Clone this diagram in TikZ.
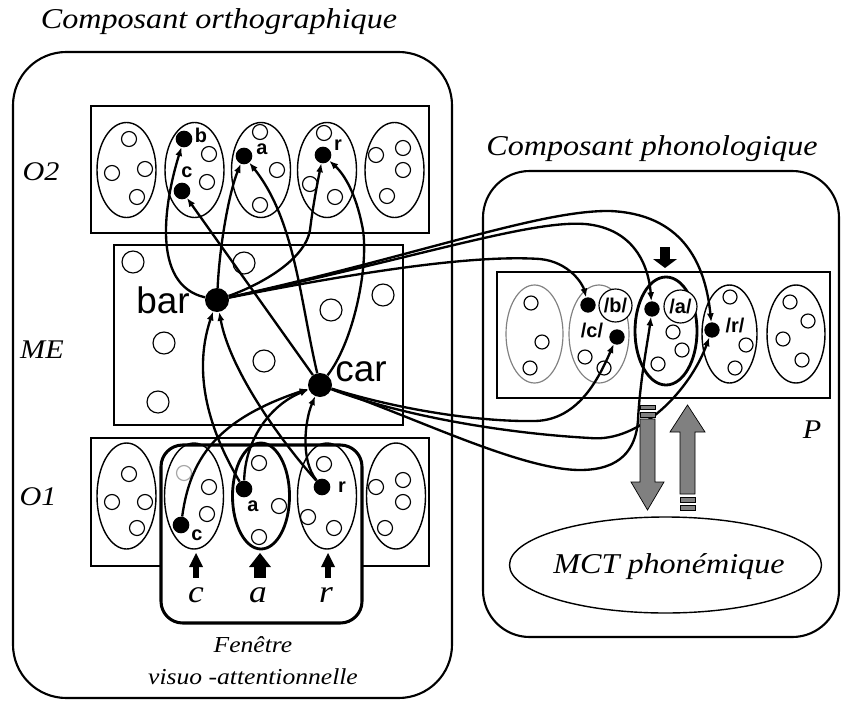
\documentclass[tikz,border=0pt]{standalone}
\usepackage{fontspec}
\usetikzlibrary{arrows.meta}
\newfontfamily\labfont[FakeStretch=1.12]{Liberation Serif}
\newfontfamily\lsans{Liberation Sans}
\begin{document}
\begin{tikzpicture}[x=0.03cm,y=-0.03cm,
 conn/.style={line width=2pt,-{Latex[length=7.5pt,width=6pt]}},
 dot/.style={circle,fill=black,inner sep=0pt,minimum size=0.5cm},
 bigdot/.style={circle,fill=black,inner sep=0pt,minimum size=0.72cm},
 sc/.style={line width=1pt},
 ell/.style={line width=1.2pt},
 thickell/.style={line width=2.4pt},
 grayell/.style={line width=1pt,draw=gray},
 box/.style={line width=1.1pt},
 comp/.style={line width=1.8pt,rounded corners=1.6cm},
 garrow/.style={fill=gray,draw=black,line width=0.6pt},
 title/.style={font=\labfont\itshape\fontsize{24.5}{28}\selectfont,inner sep=0pt},
 layer/.style={font=\labfont\itshape\fontsize{23}{26}\selectfont,inner sep=0pt},
 smallit/.style={font=\labfont\itshape\fontsize{19.5}{22}\selectfont,inner sep=0pt},
 letit/.style={font=\labfont\itshape\fontsize{27}{30}\selectfont,inner sep=0pt},
 word/.style={font=\lsans\fontsize{31.5}{34}\selectfont,inner sep=0pt},
 letb/.style={font=\lsans\bfseries\fontsize{17}{19}\selectfont,inner sep=0pt}
]
\useasboundingbox (0,0) rectangle (843,704);
% components
\draw[comp] (13,52) rectangle (452,698);
\draw[comp,rounded corners=1.4cm] (483,171) rectangle (839,637);
\node[title,anchor=base] (t1) at (219,29) {Composant orthographique};
\node[title,anchor=base] (t2) at (652,156) {Composant phonologique};
% layer boxes
\draw[box] (91,106) rectangle (429,233);
\draw[box] (114,245) rectangle (403,425);
\draw[box] (91,438) rectangle (429,566);
\draw[box] (497,272) rectangle (830,398);
\draw[line width=2.6pt,rounded corners=0.65cm,fill=white] (161,445) rectangle (362,623);
% layer labels
\node[layer] (lO2) at (41,172) {O2};
\node[layer] (lME) at (42,350) {ME};
\node[layer] (lO1) at (38,497) {O1};
\node[layer] (lP) at (812,430) {P};
% O2 ellipses
\foreach \cx in {126.5,194.5,261,327,394.5}
  \draw[ell] (\cx,170) ellipse [x radius=29.5,y radius=47.5];
\foreach \p in {(129,139),(112,173),(145,169),(137,197),(209,154),(207,182),(260,132),(277,170),(260,205),(324,133),(310,184),(335,197),(376,155),(403,148),(403,170),(387,196)}
  \draw[sc] \p circle [radius=7.5];
% O1 ellipses
\foreach \cx in {126.5,194,327,396}
  \draw[ell] (\cx,496) ellipse [x radius=29.5,y radius=53];
\draw[thickell] (261,496) ellipse [x radius=28.5,y radius=53];
\foreach \p in {(129,474),(112,502),(145,502),(137,528),(209,487),(207,514),(259,463),(279,506),(259,537),(324,464),(308,517),(334,528),(376,487),(403,480),(403,502),(385,528)}
  \draw[sc] \p circle [radius=7.5];
\draw[sc,draw=gray!70] (184,473) circle [radius=7.5];
% ME circles
\foreach \p in {(133,262),(244,263),(383,295),(331,310),(164,343),(264,361),(158,402)}
  \draw[sc] \p circle [radius=11];
% P ellipses
\draw[grayell] (534.5,334) ellipse [x radius=28.5,y radius=49];
\draw[grayell] (599,334) ellipse [x radius=30,y radius=49];
\draw[thickell] (666,331) ellipse [x radius=31,y radius=54];
\draw[ell] (729.5,334) ellipse [x radius=27.5,y radius=49];
\draw[ell] (796,334) ellipse [x radius=29,y radius=49];
\foreach \p in {(531,303),(542,342),(530,368),(585,357),(604,368),(673,332),(682,350),(658,364),(730,297),(746,345),(735,368),(790,302),(808,321),(783,339),(802,360)}
  \draw[sc] \p circle [radius=7];
\node[circle,draw,line width=1pt,fill=white,minimum size=0.99cm,inner sep=0pt,font=\lsans\bfseries\fontsize{17}{19}\selectfont] (pbc) at (615.5,305.5) {/b/};
\node[circle,draw,line width=1pt,fill=white,minimum size=0.99cm,inner sep=0pt,font=\lsans\bfseries\fontsize{17}{19}\selectfont] (pac) at (680.5,306.5) {/a/};
\node[letb] (lpc) at (592,330) {/c/};
\node[letb] (lpr) at (735,325) {/r/};
% dots
\node[dot] (b2) at (184,139) {};
\node[dot] (c2) at (182,191) {};
\node[dot] (a2) at (244,156) {};
\node[dot] (r2) at (323,155) {};
\node[dot] (c1) at (181,525) {};
\node[dot] (a1) at (244,489) {};
\node[dot] (r1) at (322,487) {};
\node[bigdot] (bar) at (217,300) {};
\node[bigdot] (car) at (320,385) {};
\node[dot,minimum size=0.46cm] (pb) at (588,305) {};
\node[dot,minimum size=0.46cm] (pc) at (617,337) {};
\node[dot,minimum size=0.46cm] (pa) at (652,309) {};
\node[dot,minimum size=0.46cm] (pr) at (712,330) {};
% letter labels
\node[letb] (lb2) at (201,135) {b};
\node[letb] (lc2) at (187,172) {c};
\node[letb] (la2) at (262,149) {a};
\node[letb] (lr2) at (338,145) {r};
\node[letb] (lc1) at (197,535) {c};
\node[letb] (la1) at (253,506) {a};
\node[letb] (lr1) at (342,487) {r};
\node[word] (wbar) at (163,300) {bar};
\node[word] (wcar) at (361,372) {car};
% O1 -> ME
\draw[conn] (c1) .. controls (190,460) and (215,420) .. (car);
\draw[conn] (a1) .. controls (215,440) and (190,380) .. (bar);
\draw[conn] (a1) .. controls (245,440) and (270,405) .. (car);
\draw[conn] (r1) .. controls (280,440) and (230,370) .. (bar);
\draw[conn] (r1) .. controls (300,460) and (305,420) .. (car);
% ME -> O2
\draw[conn] (bar) .. controls (150,285) and (165,200) .. (b2);
\draw[conn] (car) -- (c2);
\draw[conn] (bar) .. controls (220,240) and (230,190) .. (a2);
\draw[conn] (car) .. controls (300,300) and (295,220) .. (a2);
\draw[conn] (bar) .. controls (260,285) and (305,260) .. (310,230) .. controls (313,205) and (318,180) .. (r2);
\draw[conn] (car) .. controls (355,340) and (370,260) .. (362,225) .. controls (356,195) and (345,175) .. (r2);
% ME -> P
\draw[conn] (bar) .. controls (420,255) and (540,210) .. (610,211) .. controls (680,214) and (705,260) .. (pr);
\draw[conn] (bar) .. controls (420,257) and (530,220) .. (585,224) .. controls (630,228) and (648,260) .. (pa);
\draw[conn] (bar) .. controls (380,268) and (480,255) .. (540,259) .. controls (570,262) and (583,285) .. (pb);
\draw[conn] (car) .. controls (400,410) and (480,422) .. (535,421) .. controls (580,420) and (600,375) .. (pc);
\draw[conn] (car) .. controls (400,415) and (500,433) .. (590,438) .. controls (640,443) and (690,390) .. (pr);
\draw[conn] (car) .. controls (410,415) and (520,470) .. (580,470) .. controls (620,470) and (636,450) .. (638,420) .. controls (640,380) and (648,340) .. (pa);
% small black arrows
\fill (660,247) rectangle (670,260);
\fill (653,259) -- (677,259) -- (665,268) -- cycle;
\fill (193,566) rectangle (199,578);
\fill (189,567) -- (203,567) -- (196,553) -- cycle;
\fill (254,566) rectangle (266,578);
\fill (249,567) -- (271,567) -- (260,553) -- cycle;
\fill (325,566) rectangle (331,578);
\fill (321,567) -- (335,567) -- (328,553) -- cycle;
\node[letit] (lc) at (196,595) {c};
\node[letit] (la) at (258,595) {a};
\node[letit] (lr) at (326,595) {r};
\node[smallit] (f1) at (253,645) {Fenêtre};
\node[smallit] (f2) at (253,677) {visuo -attentionnelle};
% gray arrows (drawn over the connectors)
\draw[garrow] (640,405) rectangle (655,409);
\draw[garrow] (640,412) rectangle (655,417);
\draw[garrow] (640,419) -- (655,419) -- (655,482) -- (664,482) -- (647.5,510) -- (631,482) -- (640,482) -- cycle;
\draw[garrow] (687.5,405) -- (705,432) -- (695,432) -- (695,494) -- (680,494) -- (680,432) -- (670,432) -- cycle;
\draw[garrow] (680,497) rectangle (695,502);
\draw[garrow] (680,505) rectangle (695,510);
% MCT
\draw[ell] (665.5,565) ellipse [x radius=156,y radius=48];
\node[title] (mct) at (669,567) {MCT phonémique};
\end{tikzpicture}
\end{document}
